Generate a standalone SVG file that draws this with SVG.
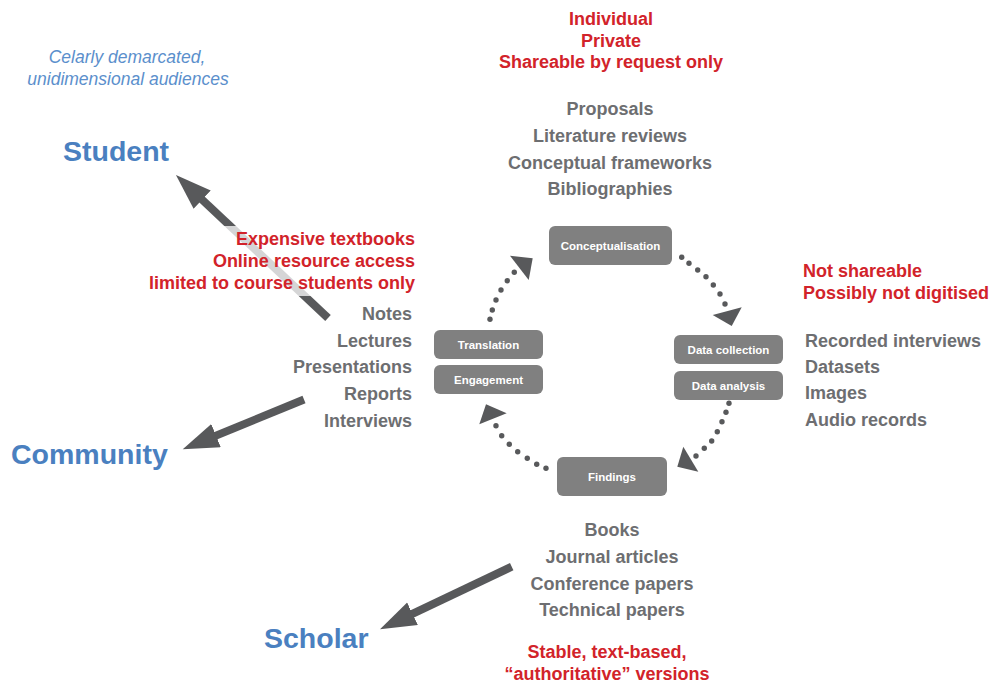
<svg xmlns="http://www.w3.org/2000/svg" width="992" height="686" viewBox="0 0 992 686">
<style>
  text { font-family: "Liberation Sans", Arial, sans-serif; }
  .red { fill: #d2232a; font-weight: bold; font-size: 18px; }
  .gray { fill: #6d6e71; font-weight: bold; font-size: 18px; }
  .aud { fill: #4a80c0; font-weight: bold; font-size: 28.5px; }
  .note { fill: #5b8fcc; font-style: italic; font-size: 17.5px; }
  .box { fill: #808080; }
  .lbl { fill: #ffffff; font-weight: bold; font-size: 11.5px; text-anchor: middle; }
  .mid { text-anchor: middle; }
  .end { text-anchor: end; }
  .big { stroke: #58595b; stroke-width: 8; fill: none; marker-end: url(#head); }
  .dot { fill: #58595b; }
  .tri { fill: #58595b; }
</style>
<defs>
  <marker id="head" markerUnits="userSpaceOnUse" markerWidth="40" markerHeight="28" refX="6" refY="12.5" orient="auto">
    <path d="M0,0 L36,12.5 L0,25 z" fill="#58595b"/>
  </marker>
</defs>
<rect width="992" height="686" fill="#ffffff"/>

<g id="connectors">
  <path class="big" d="M328,318 L197.8,195.6"/>
  <path class="big" d="M304,399.5 L210.5,437.9"/>
  <path class="big" d="M511.7,566.7 L407.1,616.4"/>
  <g id="cycle-arrows">
    <circle class="dot" cx="490" cy="319.3" r="2.7"/>
    <circle class="dot" cx="492.3" cy="310" r="2.7"/>
    <circle class="dot" cx="496" cy="300" r="2.7"/>
    <circle class="dot" cx="501" cy="290" r="2.7"/>
    <circle class="dot" cx="507.3" cy="280.7" r="2.7"/>
    <circle class="dot" cx="514.3" cy="272.3" r="2.7"/>
    <polygon class="tri" points="510,255.7 532.7,258.3 528.7,280"/>

    <circle class="dot" cx="681.7" cy="257.3" r="2.7"/>
    <circle class="dot" cx="689" cy="263.3" r="2.7"/>
    <circle class="dot" cx="697.7" cy="270" r="2.7"/>
    <circle class="dot" cx="706" cy="276.7" r="2.7"/>
    <circle class="dot" cx="713.3" cy="285" r="2.7"/>
    <circle class="dot" cx="720" cy="294" r="2.7"/>
    <circle class="dot" cx="725" cy="304" r="2.7"/>
    <polygon class="tri" points="712.7,315 741.7,307.3 731.7,326"/>

    <circle class="dot" cx="729" cy="403.3" r="2.7"/>
    <circle class="dot" cx="726" cy="412.3" r="2.7"/>
    <circle class="dot" cx="722" cy="421.7" r="2.7"/>
    <circle class="dot" cx="717.3" cy="431.7" r="2.7"/>
    <circle class="dot" cx="711.7" cy="441" r="2.7"/>
    <circle class="dot" cx="704.3" cy="448.3" r="2.7"/>
    <circle class="dot" cx="696" cy="456" r="2.7"/>
    <polygon class="tri" points="683.3,446.7 677.3,466.7 698.3,471.7"/>

    <circle class="dot" cx="496" cy="425.7" r="2.7"/>
    <circle class="dot" cx="501.7" cy="435.7" r="2.7"/>
    <circle class="dot" cx="509.3" cy="444.3" r="2.7"/>
    <circle class="dot" cx="517.7" cy="451.7" r="2.7"/>
    <circle class="dot" cx="527.3" cy="458.3" r="2.7"/>
    <circle class="dot" cx="536.7" cy="464.3" r="2.7"/>
    <circle class="dot" cx="546" cy="468.3" r="2.7"/>
    <polygon class="tri" points="486,404.3 506.7,413.3 479.3,424.3"/>
  </g>
</g>

<g id="note">
  <text class="note mid" x="127" y="63">Celarly demarcated,</text>
  <text class="note mid" x="128" y="85">unidimensional audiences</text>
</g>

<g id="student"><text class="aud" x="63" y="161">Student</text></g>
<g id="community"><text class="aud" x="11" y="464">Community</text></g>
<g id="scholar"><text class="aud" x="264" y="648">Scholar</text></g>

<g id="top-notes">
  <text class="red mid" x="611" y="25">Individual</text>
  <text class="red mid" x="611" y="47">Private</text>
  <text class="red mid" x="611" y="68">Shareable by request only</text>
  <text class="gray mid" x="610" y="115">Proposals</text>
  <text class="gray mid" x="610" y="141.5">Literature reviews</text>
  <text class="gray mid" x="610" y="168.5">Conceptual frameworks</text>
  <text class="gray mid" x="610" y="195">Bibliographies</text>
</g>

<g id="left-notes">
  <rect x="140" y="226" width="280" height="70" fill="#ffffff" fill-opacity="0.75"/>
  <text class="red end" x="415" y="245">Expensive textbooks</text>
  <text class="red end" x="415" y="267">Online resource access</text>
  <text class="red end" x="415" y="288.5">limited to course students only</text>
  <text class="gray end" x="412" y="320">Notes</text>
  <text class="gray end" x="412" y="346.5">Lectures</text>
  <text class="gray end" x="412" y="373.3">Presentations</text>
  <text class="gray end" x="412" y="400">Reports</text>
  <text class="gray end" x="412" y="426.5">Interviews</text>
</g>

<g id="right-notes">
  <text class="red" x="803" y="277">Not shareable</text>
  <text class="red" x="803" y="299">Possibly not digitised</text>
  <text class="gray" x="805" y="346.7">Recorded interviews</text>
  <text class="gray" x="805" y="373">Datasets</text>
  <text class="gray" x="805" y="399.3">Images</text>
  <text class="gray" x="805" y="426">Audio records</text>
</g>

<g id="bottom-notes">
  <text class="gray mid" x="612" y="536">Books</text>
  <text class="gray mid" x="612" y="562.7">Journal articles</text>
  <text class="gray mid" x="612" y="590">Conference papers</text>
  <text class="gray mid" x="612" y="615.7">Technical papers</text>
  <text class="red mid" x="607" y="658.3">Stable, text-based,</text>
  <text class="red mid" x="607" y="680">“authoritative” versions</text>
</g>

<g id="conceptualisation">
  <rect class="box" x="549" y="226" width="123" height="39" rx="6"/>
  <text class="lbl" x="610.5" y="250">Conceptualisation</text>
</g>
<g id="translation">
  <rect class="box" x="434" y="330" width="109" height="29" rx="6"/>
  <text class="lbl" x="488.5" y="349">Translation</text>
</g>
<g id="engagement">
  <rect class="box" x="434" y="365" width="109" height="29" rx="6"/>
  <text class="lbl" x="488.5" y="384">Engagement</text>
</g>
<g id="data-collection">
  <rect class="box" x="674" y="335" width="109" height="29" rx="6"/>
  <text class="lbl" x="728.5" y="354">Data collection</text>
</g>
<g id="data-analysis">
  <rect class="box" x="674" y="371" width="109" height="29" rx="6"/>
  <text class="lbl" x="728.5" y="390">Data analysis</text>
</g>
<g id="findings">
  <rect class="box" x="557" y="457" width="110" height="39" rx="6"/>
  <text class="lbl" x="612" y="481">Findings</text>
</g>
</svg>
